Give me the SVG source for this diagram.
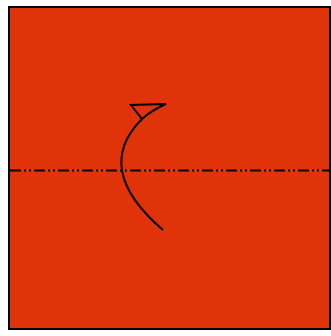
<svg xmlns="http://www.w3.org/2000/svg" width="331" height="336" viewBox="0 0 331 336">
<style>
.ln{fill:none;stroke:#000;stroke-width:2}
</style>
<rect width="331" height="336" fill="#fff"/>
<g id="panel">
<rect x="9" y="7" width="321" height="322" fill="#e0330a" stroke="#000" stroke-width="2"/>
</g>
<g id="connectors">
<line class="ln" x1="10" y1="170.5" x2="330" y2="170.5" stroke-dasharray="11 3 2 3 2 3"/>
<path class="ln" d="M142,119 Q92,169 163,230"/>
<path class="ln" d="M142,119 L131,105 L166,104 Q152,110 142,119 Z"/>
</g>
</svg>
